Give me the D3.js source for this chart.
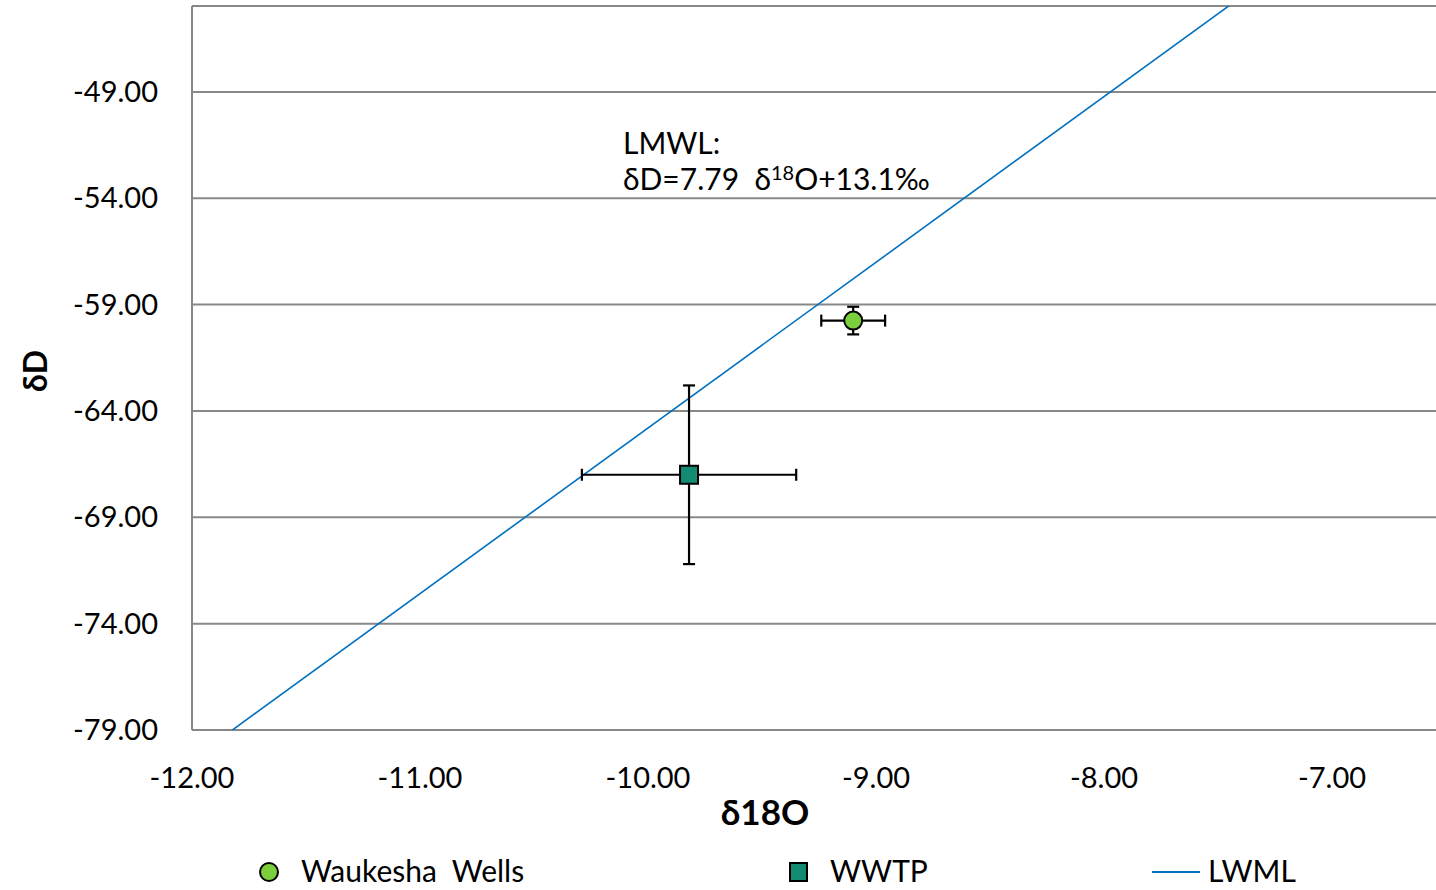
<!DOCTYPE html>
<html>
<head>
<meta charset="utf-8">
<script src="https://d3js.org/d3.v7.min.js"></script>
<style>
  body { margin: 0; background: #fff; }
  text { font-family: Lato, "Open Sans", sans-serif; fill: #000; white-space: pre; }
</style>
</head>
<body>
<div class="chart"></div>
<script>
// data
const seriesNames = ["Waukesha  Wells", "WWTP"];
const d18O = [-9.10, -9.82];
const dD = [-59.75, -67.0];
const d18OErr = [0.14, 0.47];
const dDErr = [0.65, 4.2];
const xTicks = [-12, -11, -10, -9, -8, -7];
const yTicks = [-49, -54, -59, -64, -69, -74, -79];
const lmwlSlope = 7.79, lmwlIntercept = 13.1;

const W = 1436, H = 890;
const svg = d3.select(".chart").append("svg")
  .attr("width", W).attr("height", H);

const x = d3.scaleLinear().domain([-12, -6.5]).range([192, 192 + 5.5 * 228]);
const y = d3.scaleLinear().domain([-79, -44.96]).range([730, 6]);

const fmt = d => d.toFixed(2);

// gridlines
svg.append("g").selectAll("line")
  .data(yTicks.concat([-44.96]))
  .join("line")
  .attr("x1", x(-12)).attr("x2", W)
  .attr("y1", d => y(d)).attr("y2", d => y(d))
  .attr("stroke", "#888").attr("stroke-width", 2);

// left axis line
svg.append("line")
  .attr("x1", x(-12)).attr("x2", x(-12))
  .attr("y1", y(-44.96)).attr("y2", y(-79))
  .attr("stroke", "#888").attr("stroke-width", 2);

// tick labels
svg.append("g").selectAll("text")
  .data(yTicks).join("text")
  .attr("x", 158).attr("y", d => y(d) + 10)
  .attr("text-anchor", "end")
  .style("font-size", "29px")
  .text(fmt);

svg.append("g").selectAll("text")
  .data(xTicks).join("text")
  .attr("x", d => x(d)).attr("y", 788)
  .attr("text-anchor", "middle")
  .style("font-size", "29px")
  .text(fmt);

// axis titles
svg.append("text")
  .attr("transform", "translate(47,371) rotate(-90)")
  .attr("text-anchor", "middle")
  .style("font-size", "32px").style("font-weight", "bold")
  .text("δD");

svg.append("text")
  .attr("x", 765).attr("y", 825)
  .attr("text-anchor", "middle")
  .style("font-size", "35px").style("font-weight", "bold")
  .text("δ18O");

// LMWL line, clipped to plot
svg.append("clipPath").attr("id", "plot")
  .append("rect").attr("x", x(-12)).attr("y", y(-44.96))
  .attr("width", W - x(-12)).attr("height", y(-79) - y(-44.96));

const lx = [-12, -6.5];
svg.append("line")
  .attr("clip-path", "url(#plot)")
  .attr("x1", x(lx[0])).attr("y1", y(lmwlSlope * lx[0] + lmwlIntercept))
  .attr("x2", x(lx[1])).attr("y2", y(lmwlSlope * lx[1] + lmwlIntercept))
  .attr("stroke", "#0070c0").attr("stroke-width", 1.6);

// annotation
const ann = svg.append("text").style("font-size", "30px");
ann.append("tspan").attr("x", 623).attr("y", 154).text("LMWL:");
ann.append("tspan").attr("x", 623).attr("y", 190).text("δD=7.79  δ");
ann.append("tspan").attr("dy", -10).style("font-size", "20px").text("18");
ann.append("tspan").attr("dy", 10).text("O+13.1‰");

// error bars
const eb = svg.append("g").attr("stroke", "#000").attr("stroke-width", 2.2);
d18O.forEach((v, i) => {
  const cx = x(v), cy = y(dD[i]);
  const x0 = x(v - d18OErr[i]), x1 = x(v + d18OErr[i]);
  const y0 = y(dD[i] + dDErr[i]), y1 = y(dD[i] - dDErr[i]);
  eb.append("line").attr("x1", x0).attr("x2", x1).attr("y1", cy).attr("y2", cy);
  eb.append("line").attr("x1", cx).attr("x2", cx).attr("y1", y0).attr("y2", y1);
  eb.append("line").attr("x1", x0).attr("x2", x0).attr("y1", cy - 6).attr("y2", cy + 6);
  eb.append("line").attr("x1", x1).attr("x2", x1).attr("y1", cy - 6).attr("y2", cy + 6);
  eb.append("line").attr("x1", cx - 6).attr("x2", cx + 6).attr("y1", y0).attr("y2", y0);
  eb.append("line").attr("x1", cx - 6).attr("x2", cx + 6).attr("y1", y1).attr("y2", y1);
});

// markers
svg.append("circle")
  .attr("cx", x(d18O[0])).attr("cy", y(dD[0])).attr("r", 9)
  .attr("fill", "#7ccf3c").attr("stroke", "#000").attr("stroke-width", 2);
svg.append("rect")
  .attr("x", x(d18O[1]) - 9).attr("y", y(dD[1]) - 9)
  .attr("width", 18).attr("height", 18)
  .attr("fill", "#148a72").attr("stroke", "#000").attr("stroke-width", 2);

// legend
const lg = svg.append("g");
lg.append("circle").attr("cx", 269).attr("cy", 872).attr("r", 9)
  .attr("fill", "#7ccf3c").attr("stroke", "#000").attr("stroke-width", 2);
lg.append("text").attr("x", 301).attr("y", 882).style("font-size", "30px")
  .text(seriesNames[0]);
lg.append("rect").attr("x", 790).attr("y", 863).attr("width", 17).attr("height", 18)
  .attr("fill", "#148a72").attr("stroke", "#000").attr("stroke-width", 2);
lg.append("text").attr("x", 830).attr("y", 882).style("font-size", "30px").text(seriesNames[1]);
lg.append("line").attr("x1", 1152).attr("x2", 1200).attr("y1", 872).attr("y2", 872)
  .attr("stroke", "#0070c0").attr("stroke-width", 2);
lg.append("text").attr("x", 1208).attr("y", 882).style("font-size", "30px").text("LWML");
</script>
</body>
</html>
